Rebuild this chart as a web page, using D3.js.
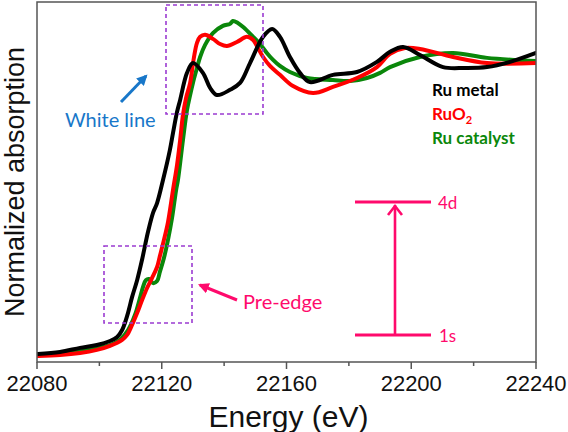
<!DOCTYPE html>
<html>
<head>
<meta charset="utf-8">
<script src="https://cdn.jsdelivr.net/npm/d3@7"></script>
<style>
  html, body { margin: 0; padding: 0; background: #fff; }
  svg { display: block; }
</style>
</head>
<body>
<div id="chart"></div>
<script>
// ---------- data ----------
const seriesNames = ["Ru metal", "RuO2", "Ru catalyst"];
const xTicks = [22080, 22120, 22160, 22200, 22240];
const xMinorTicks = [22100, 22140, 22180, 22220];

const ruMetalE = [22080.3, 22087.4, 22093.8, 22099.2, 22103.4, 22105.7, 22107.3, 22108.9, 22110.5, 22112.1, 22113.7, 22115.6, 22117.2, 22118.5, 22120.4, 22122.6, 22123.6, 22124.9, 22125.9, 22128.1, 22130.0, 22133.2, 22135.5, 22137.7, 22141.9, 22145.1, 22148.3, 22152.5, 22155.4, 22157.9, 22161.1, 22164.3, 22167.5, 22174.9, 22182.6, 22189.0, 22193.2, 22197.4, 22202.8, 22210.2, 22217.2, 22224.3, 22231.7, 22240.0];
const ruMetalMu = [-0.002, 0.005, 0.019, 0.029, 0.043, 0.057, 0.081, 0.130, 0.196, 0.254, 0.326, 0.422, 0.488, 0.522, 0.602, 0.706, 0.765, 0.838, 0.880, 0.974, 1.008, 0.974, 0.922, 0.897, 0.915, 0.939, 1.008, 1.099, 1.126, 1.099, 1.029, 0.974, 0.942, 0.967, 0.977, 1.012, 1.047, 1.064, 1.036, 0.994, 0.991, 0.994, 1.012, 1.043];

const ruo2E = [22080.3, 22087.4, 22093.8, 22099.2, 22103.4, 22107.3, 22108.9, 22110.2, 22112.1, 22113.7, 22115.3, 22116.9, 22118.5, 22119.4, 22120.7, 22122.0, 22123.6, 22124.9, 22125.9, 22126.8, 22127.8, 22129.1, 22130.3, 22131.3, 22132.3, 22133.9, 22136.4, 22138.7, 22140.9, 22144.1, 22147.3, 22149.3, 22150.5, 22152.5, 22154.7, 22157.9, 22162.1, 22168.5, 22174.9, 22182.6, 22189.0, 22193.2, 22198.0, 22202.8, 22213.4, 22224.3, 22240.0];
const ruo2Mu = [-0.009, -0.006, 0.001, 0.012, 0.026, 0.047, 0.064, 0.092, 0.140, 0.185, 0.227, 0.262, 0.300, 0.338, 0.394, 0.456, 0.567, 0.654, 0.741, 0.828, 0.887, 0.939, 1.026, 1.078, 1.099, 1.106, 1.092, 1.074, 1.067, 1.081, 1.099, 1.088, 1.067, 1.029, 0.998, 0.967, 0.928, 0.904, 0.925, 0.956, 0.994, 1.040, 1.060, 1.057, 1.029, 1.008, 1.008];

const ruCatE = [22080.3, 22087.4, 22093.8, 22099.2, 22103.4, 22106.6, 22109.2, 22111.4, 22113.0, 22114.0, 22114.9, 22115.9, 22117.2, 22118.5, 22119.4, 22120.7, 22122.0, 22123.3, 22124.6, 22125.2, 22126.8, 22128.1, 22129.1, 22130.0, 22131.3, 22132.3, 22133.9, 22136.4, 22139.6, 22141.9, 22142.8, 22144.4, 22146.1, 22149.3, 22151.5, 22153.7, 22155.7, 22157.9, 22161.1, 22166.6, 22174.9, 22180.4, 22185.8, 22190.0, 22193.2, 22202.8, 22213.4, 22224.3, 22240.0];
const ruCatMu = [-0.006, -0.002, 0.008, 0.019, 0.029, 0.047, 0.081, 0.133, 0.192, 0.231, 0.254, 0.258, 0.244, 0.251, 0.283, 0.331, 0.394, 0.470, 0.567, 0.602, 0.741, 0.845, 0.897, 0.939, 0.991, 1.029, 1.071, 1.112, 1.137, 1.144, 1.154, 1.147, 1.133, 1.099, 1.074, 1.043, 1.019, 0.998, 0.977, 0.956, 0.949, 0.946, 0.956, 0.974, 0.994, 1.029, 1.043, 1.026, 1.015];

// ---------- layout ----------
const W = 568, H = 432;
const plot = { left: 37, right: 536, top: 2, bottom: 362 };
const colors = { "Ru metal": "#000000", "RuO2": "#ff0000", "Ru catalyst": "#0a870a" };

const svg = d3.select("#chart").append("svg")
  .attr("width", W).attr("height", H)
  .style("background", "#fff");

const x = d3.scaleLinear().domain([22080, 22240]).range([plot.left, plot.right]);
const y = d3.scaleLinear().domain([-0.03, 1.22]).range([plot.bottom, plot.top]);

// ---------- curves ----------
const series = [
  { name: "Ru catalyst", E: ruCatE, mu: ruCatMu },
  { name: "RuO2", E: ruo2E, mu: ruo2Mu },
  { name: "Ru metal", E: ruMetalE, mu: ruMetalMu }
];
const line = d3.line()
  .x(d => x(d[0])).y(d => y(d[1]))
  .curve(d3.curveCatmullRom.alpha(0.5));

svg.append("defs").append("clipPath").attr("id", "clip")
  .append("rect").attr("x", plot.left).attr("y", plot.top)
  .attr("width", plot.right - plot.left).attr("height", plot.bottom - plot.top);

const g = svg.append("g").attr("clip-path", "url(#clip)");
series.forEach(s => {
  g.append("path")
    .datum(s.E.map((e, i) => [e, s.mu[i]]))
    .attr("fill", "none")
    .attr("stroke", colors[s.name])
    .attr("stroke-width", 4)
    .attr("stroke-linejoin", "round")
    .attr("stroke-linecap", "round")
    .attr("d", line);
});

// ---------- frame & axis ----------
const axisColor = "#555";
svg.append("rect")
  .attr("x", plot.left).attr("y", plot.top)
  .attr("width", plot.right - plot.left).attr("height", plot.bottom - plot.top)
  .attr("fill", "none").attr("stroke", axisColor).attr("stroke-width", 1.5);

const xAxis = svg.append("g").attr("transform", `translate(0,${plot.bottom})`);
xAxis.selectAll("line.major").data(xTicks).enter().append("line")
  .attr("x1", d => x(d)).attr("x2", d => x(d)).attr("y1", 0).attr("y2", 7)
  .attr("stroke", axisColor).attr("stroke-width", 1.5);
xAxis.selectAll("line.minor").data(xMinorTicks).enter().append("line")
  .attr("x1", d => x(d)).attr("x2", d => x(d)).attr("y1", 0).attr("y2", 4)
  .attr("stroke", axisColor).attr("stroke-width", 1.5);
xAxis.selectAll("text").data(xTicks).enter().append("text")
  .attr("x", d => x(d)).attr("y", 29)
  .attr("text-anchor", "middle")
  .attr("font-family", "Liberation Sans, Arial, sans-serif")
  .attr("font-size", 22).attr("fill", "#111")
  .text(d => d);

svg.append("text")
  .attr("x", (plot.left + plot.right) / 2 + 2).attr("y", 427)
  .attr("text-anchor", "middle")
  .attr("font-family", "Liberation Sans, Arial, sans-serif")
  .attr("font-size", 30).attr("fill", "#111")
  .text("Energy (eV)");

svg.append("text")
  .attr("transform", `translate(24,${(plot.top + plot.bottom) / 2}) rotate(-90)`)
  .attr("text-anchor", "middle")
  .attr("font-family", "Liberation Sans, Arial, sans-serif")
  .attr("font-size", 27).attr("fill", "#111")
  .text("Normalized absorption");

// ---------- legend ----------
const legendFont = "Lato, 'Open Sans', sans-serif";
const leg = svg.append("g").attr("font-family", legendFont).attr("font-weight", "bold").attr("font-size", 17);
leg.append("text").attr("x", 432).attr("y", 96).attr("fill", colors["Ru metal"]).text("Ru metal");
const t2 = leg.append("text").attr("x", 432).attr("y", 120).attr("fill", colors["RuO2"]);
t2.append("tspan").text("RuO");
t2.append("tspan").attr("font-size", 11).attr("dy", 4).text("2");
leg.append("text").attr("x", 432).attr("y", 144).attr("fill", colors["Ru catalyst"]).text("Ru catalyst");

// ---------- annotations ----------
const purple = "#9b3bd1", blue = "#1877c9", pink = "#ff0a6c";
const defs = svg.select("defs");
function headMarker(id, col) {
  defs.append("marker").attr("id", id)
    .attr("viewBox", "0 0 10 10").attr("refX", 8).attr("refY", 5)
    .attr("markerWidth", 3.6).attr("markerHeight", 3.6).attr("orient", "auto")
    .append("path").attr("d", "M0,0 L10,5 L0,10 z").attr("fill", col);
}
headMarker("hblue", blue);
headMarker("hpink", pink);

// dashed boxes
[[166, 5, 263, 114], [104, 246, 192, 323]].forEach(b => {
  svg.append("rect").attr("x", b[0]).attr("y", b[1])
    .attr("width", b[2] - b[0]).attr("height", b[3] - b[1])
    .attr("fill", "none").attr("stroke", purple)
    .attr("stroke-width", 1.6).attr("stroke-dasharray", "4,3");
});

// white line
svg.append("line").attr("x1", 121).attr("y1", 102).attr("x2", 146).attr("y2", 76)
  .attr("stroke", blue).attr("stroke-width", 3).attr("marker-end", "url(#hblue)");
svg.append("text").attr("x", 65).attr("y", 127)
  .attr("font-family", legendFont).attr("font-size", 20).attr("fill", blue)
  .text("White line");

// pre-edge
svg.append("line").attr("x1", 237).attr("y1", 300).attr("x2", 200).attr("y2", 285)
  .attr("stroke", pink).attr("stroke-width", 3).attr("marker-end", "url(#hpink)");
svg.append("text").attr("x", 243).attr("y", 309)
  .attr("font-family", legendFont).attr("font-size", 20).attr("fill", pink)
  .text("Pre-edge");

// energy level diagram
svg.append("line").attr("x1", 355).attr("x2", 431).attr("y1", 202).attr("y2", 202)
  .attr("stroke", pink).attr("stroke-width", 3.2);
svg.append("line").attr("x1", 355).attr("x2", 431).attr("y1", 335).attr("y2", 335)
  .attr("stroke", pink).attr("stroke-width", 3.2);
svg.append("line").attr("x1", 395).attr("x2", 395).attr("y1", 335).attr("y2", 205)
  .attr("stroke", pink).attr("stroke-width", 2.6);
svg.append("path").attr("d", "M388,215 L395,206 L402,215")
  .attr("fill", "none").attr("stroke", pink).attr("stroke-width", 2.6)
  .attr("stroke-linejoin", "miter");
svg.append("text").attr("x", 438).attr("y", 209)
  .attr("font-family", legendFont).attr("font-size", 17).attr("fill", pink).text("4d");
svg.append("text").attr("x", 439).attr("y", 342)
  .attr("font-family", legendFont).attr("font-size", 17).attr("fill", pink).text("1s");
</script>
</body>
</html>
